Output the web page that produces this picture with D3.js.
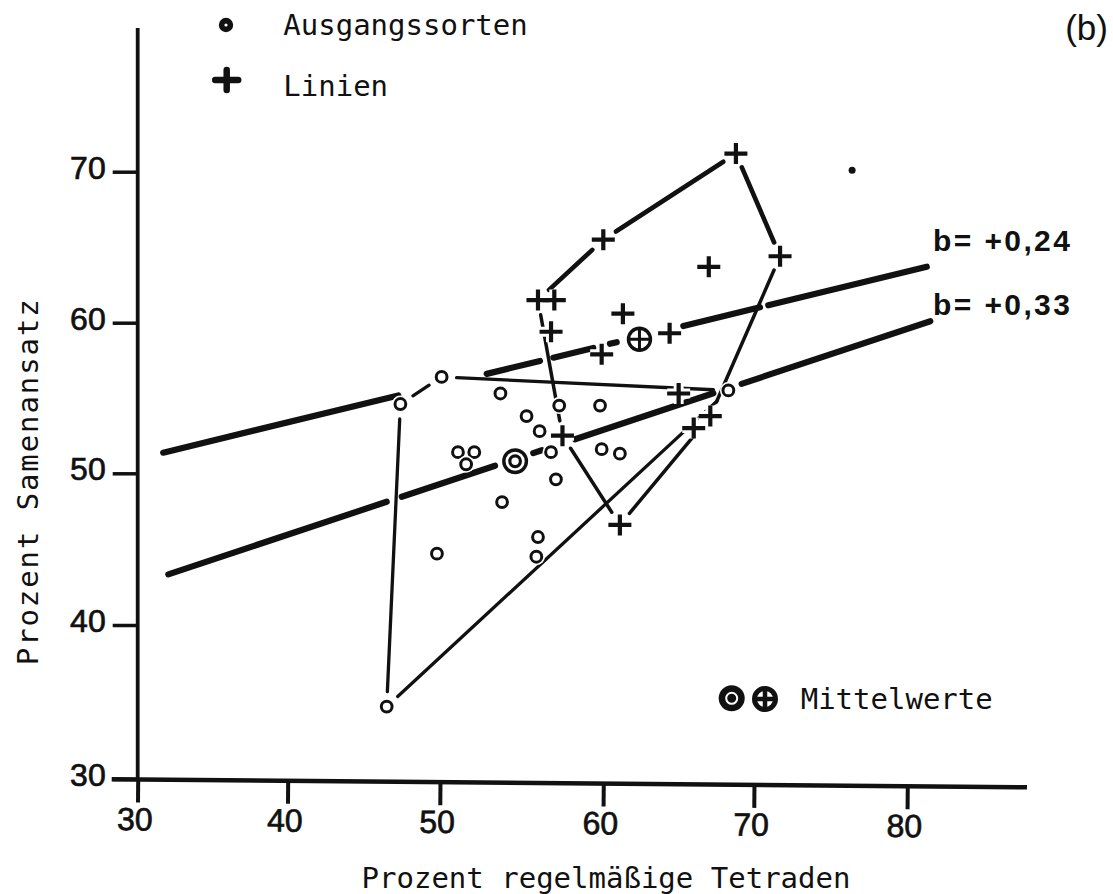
<!DOCTYPE html>
<html><head><meta charset="utf-8">
<script src="https://cdn.jsdelivr.net/npm/d3@7"></script>
<style>
html,body{margin:0;padding:0;background:#fff;}
svg{display:block;}
</style></head><body>
<svg id="chart" width="1113" height="894"></svg>
<script>
// ---------------- data ----------------
const xTickValues = [30, 40, 50, 60, 70, 80];
const yTickValues = [30, 40, 50, 60, 70];

// Ausgangssorten (open circles)
const ausgangX = [50.1, 47.4, 53.7, 57.3, 59.8, 55.3, 56.1, 56.8, 59.9, 61.1, 51.1, 52.1, 51.6, 57.1, 53.8, 56.0, 49.8, 55.9, 68.3, 46.5];
const ausgangY = [56.4, 54.6, 55.3, 54.5, 54.5, 53.8, 52.8, 51.4, 51.6, 51.3, 51.4, 51.4, 50.6, 49.6, 48.1, 45.8, 44.7, 44.5, 55.5, 34.7];
// Linien (crosses)
const linienX = [68.8, 60.0, 71.7, 67.0, 56.0, 57.0, 56.8, 61.3, 59.9, 64.4, 65.0, 57.5, 67.1, 66.0, 61.1];
const linienY = [71.2, 65.5, 64.4, 63.7, 61.5, 61.5, 59.4, 60.6, 57.9, 59.3, 55.3, 52.5, 53.8, 53.0, 46.6];

// outline polygons (indices into the series)
const ausgangHull = [1, 0, 18, 19, 1];
const linienHull = [4, 1, 0, 2, 12, 14, 11, 4];

// means
const meanAusgang = [54.6, 50.8];
const meanLinien = [62.4, 58.9];
const strayDot = [76.4, 70.1];

// regression lines: end points and drawn (hand-broken) x ranges
const regUpperEnds = [[31.7, 51.37], [81.27, 63.71]];
const regUpperSegs = [[31.7, 47.26], [52.86, 56.12], [56.94, 59.39], [60.44, 60.89], [65.31, 70.39], [70.93, 81.27]];
const regLowerEnds = [[32.04, 43.34], [81.5, 60.1]];
const regLowerSegs = [[32.04, 46.5], [47.49, 53.37], [55.71, 56.23], [58.27, 67.3], [69.18, 81.5]];
const regLabels = ["b= +0,24", "b= +0,33"];

const legendLabels = ["Ausgangssorten", "Linien", "Mittelwerte"];
const xTitle = "Prozent regelmäßige Tetraden";
const yTitle = "Prozent Samenansatz";
const panelLabel = "(b)";

// ---------------- layout ----------------
const X_RANGE = [137.7, 287.7, 440, 603.3, 754, 907.3];
const Y_RANGE = [779, 625, 473.3, 322.7, 171.7];
const INK = "#111";
const MONO = "'DejaVu Sans Mono', 'Liberation Mono', monospace";
const SANS = "'Liberation Sans', Arial, sans-serif";

const svg = d3.select("#chart");
svg.append("rect").attr("width", 1113).attr("height", 894).attr("fill", "#fff");

const x = d3.scaleLinear().domain(xTickValues).range(X_RANGE);
const y = d3.scaleLinear().domain(yTickValues).range(Y_RANGE);

// ---------------- axes ----------------
const tilt = Math.atan2(8, 915) * 180 / Math.PI;
const gx = svg.append("g")
  .attr("transform", `translate(0,${y(30) + 0.5}) rotate(${tilt},${x(30)},0)`)
  .call(d3.axisBottom(x).tickValues(xTickValues).tickSize(23).tickPadding(5).tickFormat(d3.format("d")));
gx.select(".domain").remove();
gx.append("line").attr("x1", x(30) - 26).attr("x2", 1027).attr("y1", 0).attr("y2", 0)
  .attr("stroke", INK).attr("stroke-width", 4.5);
gx.selectAll(".tick line").attr("stroke", INK).attr("stroke-width", 4);
gx.selectAll(".tick text").attr("fill", INK).attr("font-family", SANS).attr("font-size", 32)
  .attr("stroke", INK).attr("stroke-width", 0.7).attr("dx", -3);

const gy = svg.append("g")
  .attr("transform", `translate(${x(30)},0)`)
  .call(d3.axisLeft(y).tickValues(yTickValues).tickSize(25).tickPadding(7).tickFormat(d3.format("d")));
gy.select(".domain").remove();
gy.append("line").attr("x1", 0).attr("x2", 0).attr("y1", 28).attr("y2", y(30) + 2)
  .attr("stroke", INK).attr("stroke-width", 3.8);
gy.selectAll(".tick line").attr("stroke", INK).attr("stroke-width", 3.5);
gy.selectAll(".tick text").attr("fill", INK).attr("font-family", SANS).attr("font-size", 32)
  .attr("stroke", INK).attr("stroke-width", 0.7).attr("dy", "0.2em");

// axis titles
svg.append("text").attr("x", x(50) + 166).attr("y", 888)
  .attr("text-anchor", "middle").attr("font-family", MONO).attr("font-size", 29).attr("fill", INK)
  .text(xTitle);
svg.append("text").attr("transform", `translate(38,${y(50) + 8}) rotate(-90)`)
  .attr("text-anchor", "middle").attr("font-family", MONO).attr("font-size", 29)
  .attr("letter-spacing", 1.9).attr("fill", INK)
  .text(yTitle);

// panel label
svg.append("text").attr("x", 1108).attr("y", 40).attr("text-anchor", "end")
  .attr("font-family", SANS).attr("font-size", 35).attr("fill", INK).text(panelLabel);

// ---------------- hull outlines ----------------
function shortened(p0, p1, g0, g1) {
  const dx = p1[0] - p0[0], dy = p1[1] - p0[1];
  const L = Math.hypot(dx, dy), ux = dx / L, uy = dy / L;
  return [[p0[0] + ux * g0, p0[1] + uy * g0], [p1[0] - ux * g1, p1[1] - uy * g1]];
}
const gHull = svg.append("g").attr("stroke", INK).attr("stroke-linecap", "round");
function drawHull(idx, xs, ys, widthFn) {
  for (let i = 0; i < idx.length - 1; i++) {
    const a = [x(xs[idx[i]]), y(ys[idx[i]])];
    const b = [x(xs[idx[i + 1]]), y(ys[idx[i + 1]])];
    const s = shortened(a, b, 15, 15);
    gHull.append("line").attr("x1", s[0][0]).attr("y1", s[0][1]).attr("x2", s[1][0]).attr("y2", s[1][1])
      .attr("stroke-width", widthFn(i));
  }
}
drawHull(ausgangHull, ausgangX, ausgangY, () => 3.3);
drawHull(linienHull, linienX, linienY, i => (i < 3 ? 4.6 : 3.5));

// ---------------- regression lines ----------------
function drawReg(ends, segs, w) {
  const P0 = [x(ends[0][0]), y(ends[0][1])], P1 = [x(ends[1][0]), y(ends[1][1])];
  const py = px => P0[1] + (px - P0[0]) / (P1[0] - P0[0]) * (P1[1] - P0[1]);
  const g = svg.append("g");
  segs.forEach(s => {
    const xa = x(s[0]), xb = x(s[1]);
    g.append("line").attr("x1", xa).attr("y1", py(xa)).attr("x2", xb).attr("y2", py(xb))
      .attr("stroke", INK).attr("stroke-width", w).attr("stroke-linecap", "round");
  });
}
drawReg(regUpperEnds, regUpperSegs, 6.2);
drawReg(regLowerEnds, regLowerSegs, 6.2);

// regression labels
svg.append("text").attr("x", 933).attr("y", 250.5).attr("font-family", SANS).attr("font-weight", "bold")
  .attr("font-size", 30).attr("letter-spacing", 2.4).attr("fill", INK).text(regLabels[0]);
svg.append("text").attr("x", 933).attr("y", 314.5).attr("font-family", SANS).attr("font-weight", "bold")
  .attr("font-size", 30).attr("letter-spacing", 2.4).attr("fill", INK).text(regLabels[1]);

// ---------------- markers ----------------
function crossPath(cx, cy, hw, hh) {
  return `M${cx - hw},${cy}H${cx + hw}M${cx},${cy - hh}V${cy + hh}`;
}
const gCirc = svg.append("g");
ausgangX.forEach((v, i) => {
  const cx = x(v), cy = y(ausgangY[i]);
  gCirc.append("circle").attr("cx", cx).attr("cy", cy).attr("r", 8.5).attr("fill", "#fff");
  gCirc.append("circle").attr("cx", cx).attr("cy", cy).attr("r", 5.4)
    .attr("fill", "#fff").attr("stroke", INK).attr("stroke-width", 3);
});
const gCross = svg.append("g");
linienX.forEach((v, i) => {
  const cx = x(v), cy = y(linienY[i]);
  gCross.append("path").attr("d", crossPath(cx, cy, 11.5, 10.5)).attr("stroke", "#fff").attr("stroke-width", 10);
});
linienX.forEach((v, i) => {
  const cx = x(v), cy = y(linienY[i]);
  gCross.append("path").attr("d", crossPath(cx, cy, 11.5, 10.5)).attr("stroke", INK).attr("stroke-width", 4.2);
});

// means
function drawMeanA(cx, cy, big) {
  svg.append("circle").attr("cx", cx).attr("cy", cy).attr("r", 15).attr("fill", "#fff");
  if (big) {
    svg.append("circle").attr("cx", cx).attr("cy", cy).attr("r", 13).attr("fill", INK);
    svg.append("circle").attr("cx", cx).attr("cy", cy).attr("r", 5.5).attr("fill", "none").attr("stroke", "#fff").attr("stroke-width", 2);
  } else {
    svg.append("circle").attr("cx", cx).attr("cy", cy).attr("r", 11.3).attr("fill", "#fff").attr("stroke", INK).attr("stroke-width", 3.4);
    svg.append("circle").attr("cx", cx).attr("cy", cy).attr("r", 5.3).attr("fill", "#fff").attr("stroke", INK).attr("stroke-width", 3.2);
  }
}
function drawMeanL(cx, cy, big) {
  svg.append("circle").attr("cx", cx).attr("cy", cy).attr("r", 15).attr("fill", "#fff");
  const r = big ? 10.5 : 11, sw = big ? 5 : 3.4;
  svg.append("circle").attr("cx", cx).attr("cy", cy).attr("r", r).attr("fill", "#fff").attr("stroke", INK).attr("stroke-width", sw);
  svg.append("path").attr("d", crossPath(cx, cy, r, r)).attr("stroke", INK).attr("stroke-width", big ? 4.5 : 3);
}
drawMeanA(x(meanAusgang[0]), y(meanAusgang[1]), false);
drawMeanL(x(meanLinien[0]), y(meanLinien[1]), false);

// stray dot
svg.append("circle").attr("cx", x(strayDot[0])).attr("cy", y(strayDot[1])).attr("r", 3.5).attr("fill", INK);

// ---------------- legends ----------------
svg.append("circle").attr("cx", 226).attr("cy", 25).attr("r", 7.2).attr("fill", INK);
svg.append("circle").attr("cx", 226).attr("cy", 25).attr("r", 1.6).attr("fill", "#fff");
svg.append("path").attr("d", crossPath(226.7, 80, 11.5, 10)).attr("stroke", INK).attr("stroke-width", 6.5).attr("stroke-linecap", "round");
svg.append("text").attr("x", 283.3).attr("y", 35).attr("font-family", MONO).attr("font-size", 29).attr("fill", INK).text(legendLabels[0]);
svg.append("text").attr("x", 283.3).attr("y", 96).attr("font-family", MONO).attr("font-size", 29).attr("fill", INK).text(legendLabels[1]);

drawMeanA(731.7, 698.3, true);
drawMeanL(765, 699, true);
svg.append("text").attr("x", 800.7).attr("y", 708.5).attr("font-family", MONO).attr("font-size", 29).attr("fill", INK).text(legendLabels[2]);
</script>
</body></html>
